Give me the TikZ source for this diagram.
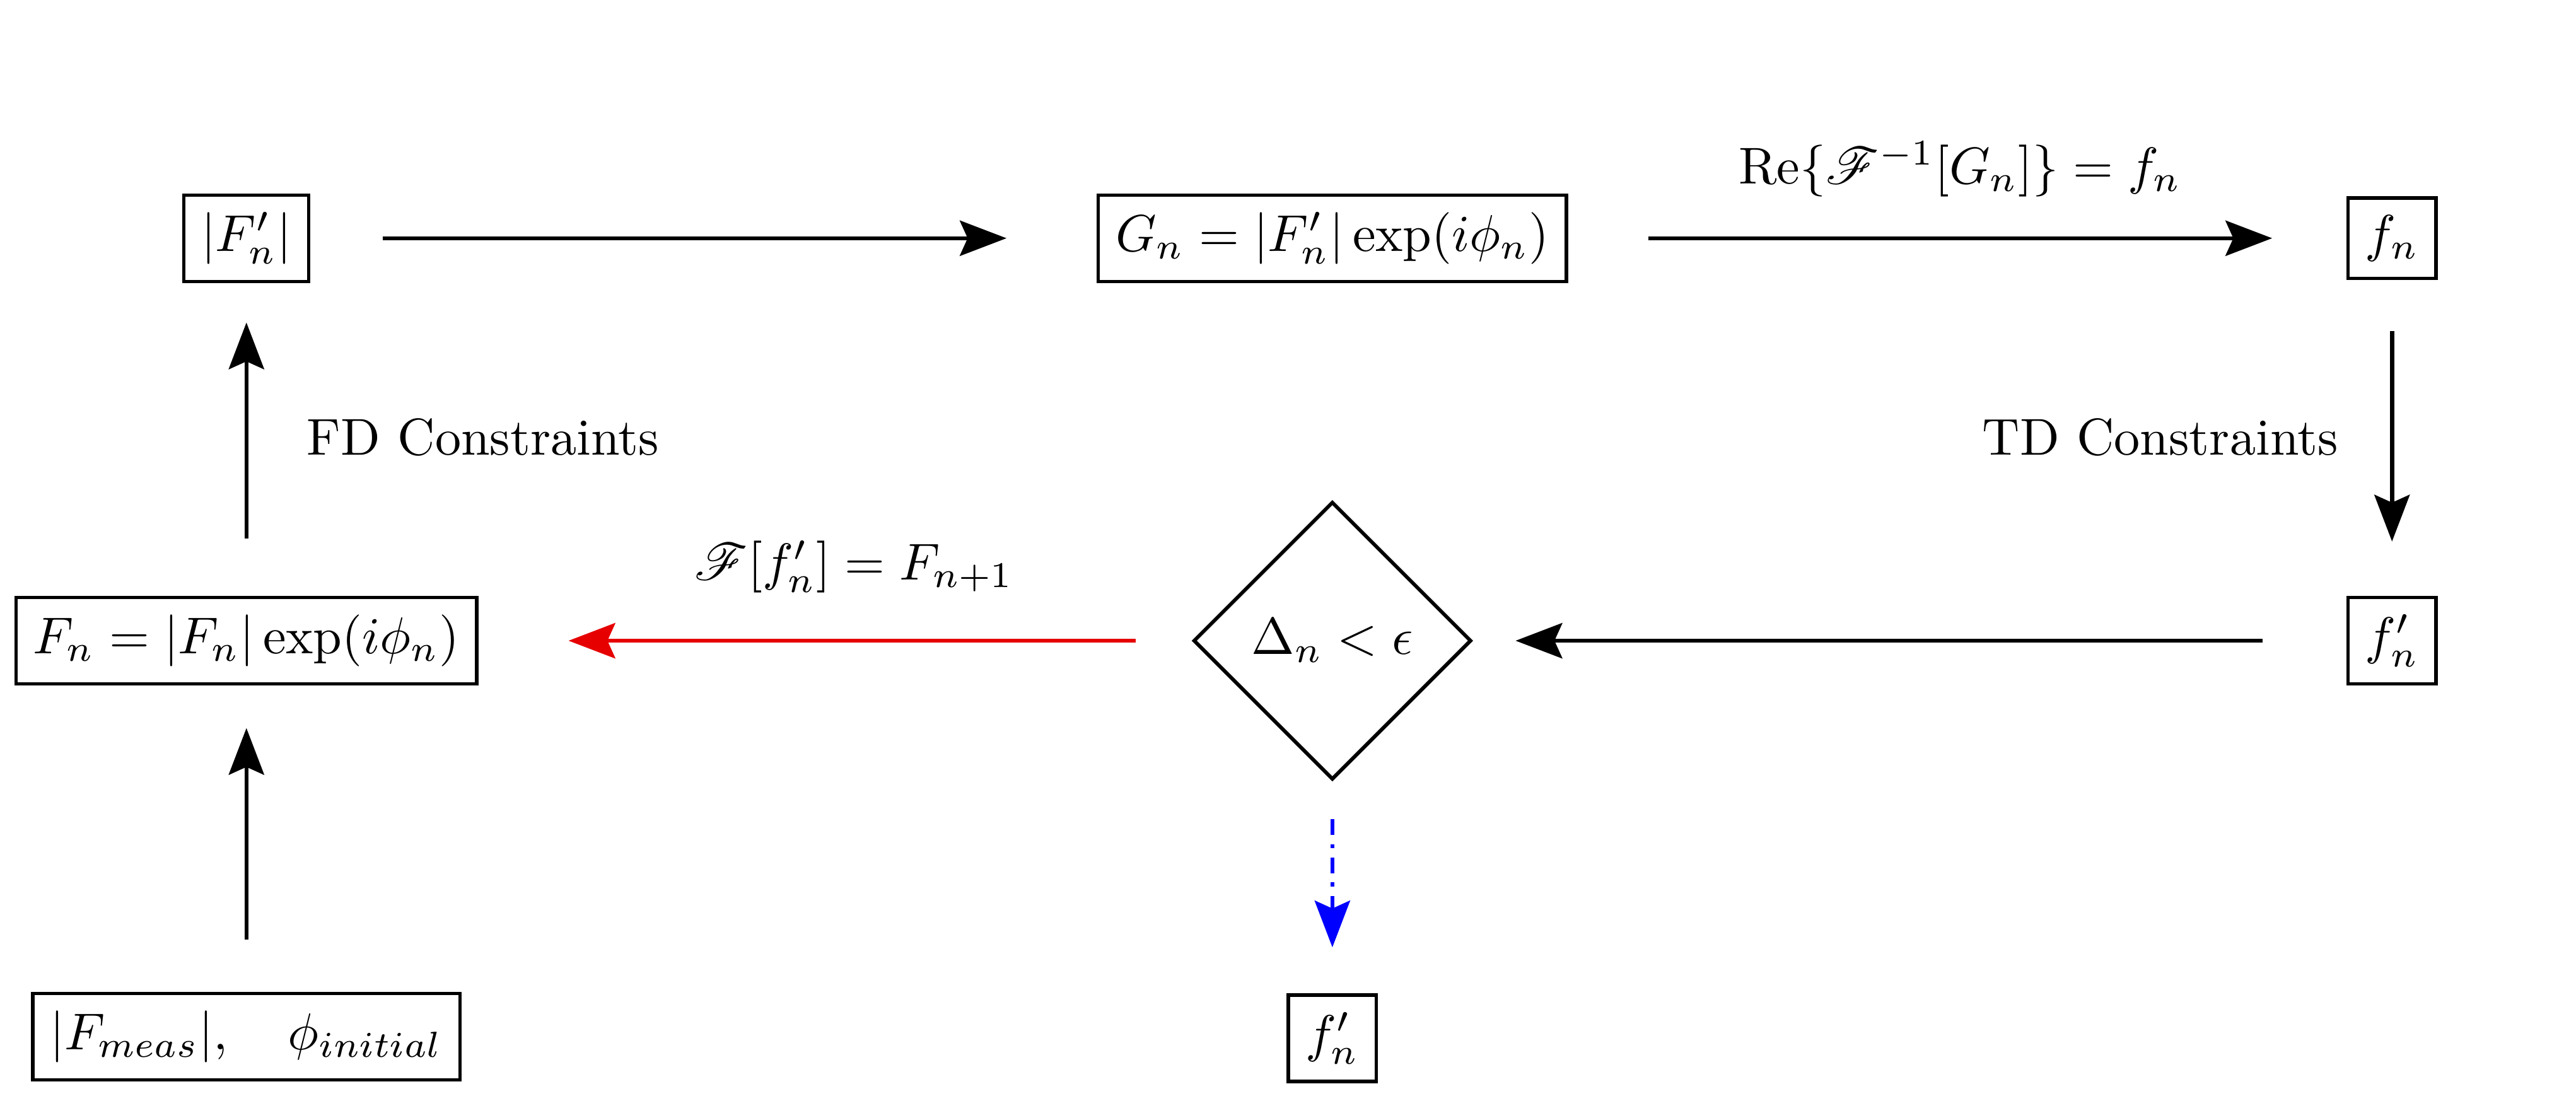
\documentclass[tikz,border=0pt]{standalone}
\usepackage{amsmath}
\usepackage{mathrsfs}
\usetikzlibrary{shapes.geometric,arrows.meta}
\definecolor{arrred}{RGB}{230,0,0}
\begin{document}
\begin{tikzpicture}[x=0.317pt,y=-0.317pt,
  box/.style={draw, line width=0.65pt, inner sep=3.33pt},
  dia/.style={draw, diamond, line width=0.7pt, minimum width=53.6pt, minimum height=53.6pt, inner sep=1pt},
  conn/.style={line width=0.8pt, -{Stealth[length=9pt,width=6.8pt,inset=1.5pt]}},
  lbl/.style={inner sep=0pt}]
\useasboundingbox (0,0) rectangle (1568,670);

\node[box] (Fp)  at (150,145)  {$|F'_n|$};
\node[box] (G)   at (811,145)  {$G_n = |F'_n|\exp(i\phi_n)$};
\node[box] (fn)  at (1456,145) {$f_n$};
\node[box] (fpn) at (1456,390) {$f'_n$};
\node[dia] (D)   at (811,390)  {$\Delta_n < \epsilon$};
\node[box] (Fn)  at (150,390)  {$F_n = |F_n|\exp(i\phi_n)$};
\node[box] (Fm)  at (150,631)  {$|F_{meas}|,\quad \phi_{initial}$};
\node[box] (fpb) at (811,632)  {$f'_n$};

\node[lbl] (l1) at (1193,103) {$\mathrm{Re}\{\mathscr{F}^{-1}[G_n]\} = f_n$};
\node[lbl] (l2) at (1315,266) {TD Constraints};
\node[lbl] (l3) at (294,266)  {FD Constraints};
\node[lbl] (l4) at (520,345)  {$\mathscr{F}[f'_n] = F_{n+1}$};

\draw[conn, shorten <=13.9pt, shorten >=17.4pt] (Fp) -- (G);
\draw[conn, shorten <=15.5pt, shorten >=14.3pt] (G) -- (fn);
\draw[conn, shorten <=9.8pt, shorten >=10.5pt] (fn) -- (fpn);
\draw[conn, shorten <=16.2pt, shorten >=8.2pt] (fpn) -- (D);
\draw[conn, arrred, shorten <=10.8pt, shorten >=17.4pt] (D) -- (Fn);
\draw[conn, shorten <=11.1pt, shorten >=7.6pt] (Fn) -- (Fp);
\draw[conn, shorten <=10.1pt, shorten >=8.2pt] (Fm) -- (Fn);
\draw[conn, blue, dash pattern=on 3pt off 1.8pt on 0.8pt off 1.8pt, shorten <=7.3pt, shorten >=8.9pt] (D) -- (fpb);
\end{tikzpicture}
\end{document}
